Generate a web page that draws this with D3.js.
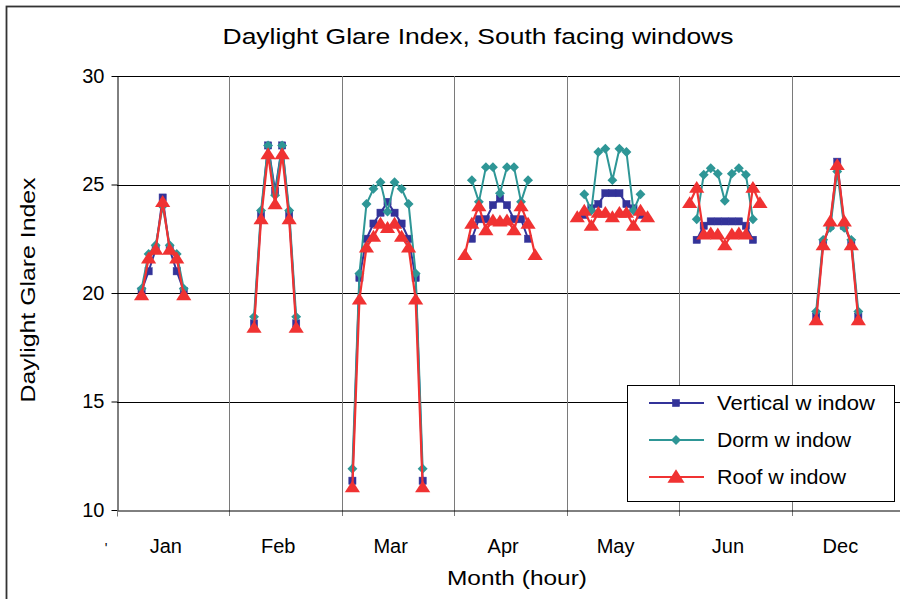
<!DOCTYPE html>
<html><head><meta charset="utf-8">
<script src="https://cdn.jsdelivr.net/npm/d3@7"></script>
<style>body{margin:0;background:#fff} svg{display:block} text{font-family:"Liberation Sans",Arial,sans-serif;fill:#000}</style>
</head><body>
<svg id="c" width="900" height="599"></svg>
<script>
// ---- data ----
const months = ["Jan","Feb","Mar","Apr","May","Jun","Dec"];
const firstSlot = [3,3,1,1,1,1,3];   // first hour slot of each month
const slotsPerMonth = 16;
const vertical = [
  [20.1, 21.0, 22.0, 24.4, 22.0, 21.0, 20.1],
  [18.6, 23.6, 26.8, 24.7, 26.8, 23.6, 18.6],
  [11.35, 20.7, 22.5, 23.2, 23.7, 24.2, 23.7, 23.2, 22.5, 20.7, 11.35],
  [null, 22.5, 23.4, 23.4, 24.05, 24.35, 24.05, 23.4, 23.4, 22.5, null],
  [null, 23.6, 23.9, 24.1, 24.6, 24.6, 24.6, 24.1, 23.9, 23.6, null],
  [null, 22.45, 23.1, 23.3, 23.3, 23.3, 23.3, 23.3, 23.1, 22.45, null],
  [18.9, 22.3, 23.1, 26.05, 23.1, 22.3, 18.9]
];
const dorm = [
  [20.2, 21.8, 22.2, 24.0, 22.2, 21.8, 20.2],
  [18.9, 23.8, 26.8, 24.5, 26.8, 23.8, 18.9],
  [11.9, 20.9, 24.1, 24.8, 25.1, 23.75, 25.1, 24.8, 24.1, 20.9, 11.9],
  [null, 25.2, 24.2, 25.8, 25.8, 24.6, 25.8, 25.8, 24.2, 25.2, null],
  [null, 24.55, 23.8, 26.5, 26.65, 25.2, 26.65, 26.5, 23.8, 24.55, null],
  [null, 23.4, 25.45, 25.75, 25.5, 24.25, 25.5, 25.75, 25.45, 23.4, null],
  [19.15, 22.45, 23.0, 25.6, 23.0, 22.45, 19.15]
];
const roof = [
  [19.9, 21.6, 22.0, 24.2, 22.0, 21.6, 19.9],
  [18.4, 23.4, 26.4, 24.1, 26.4, 23.4, 18.4],
  [11.05, 19.7, 22.1, 22.6, 23.2, 23.0, 23.2, 22.6, 22.1, 19.7, 11.05],
  [21.75, 23.2, 24.0, 22.9, 23.35, 23.3, 23.35, 22.9, 24.0, 23.2, 21.75],
  [23.5, 23.8, 23.1, 23.7, 23.7, 23.5, 23.7, 23.7, 23.1, 23.8, 23.5],
  [24.15, 24.85, 22.7, 22.75, 22.7, 22.2, 22.7, 22.75, 22.7, 24.85, 24.15],
  [18.75, 22.2, 23.3, 25.9, 23.3, 22.2, 18.75]
];
const yTicks = [10, 15, 20, 25, 30];
const seriesNames = ["Vertical w indow", "Dorm w indow", "Roof  w indow"];
const seriesColors = ["#333399", "#2E9696", "#F03232"];
const seriesShapes = ["square", "diamond", "triangle"];
const titleText = "Daylight Glare Index, South facing windows";
const xTitle = "Month (hour)";
const yTitle = "Daylight Glare Index";

// ---- layout ----
const svg = d3.select("#c");
const P = {left:117, right:904, top:76, bottom:510};
const x = d3.scaleLinear().domain([0, months.length*slotsPerMonth]).range([P.left, P.right]);
const y = d3.scaleLinear().domain([10, 30]).range([P.bottom, P.top]);

// outer border
svg.append("rect").attr("x",6.5).attr("y",6.5).attr("width",900).attr("height",600)
  .attr("fill","#fff").attr("stroke","#333").attr("stroke-width",1.8);

// horizontal gridlines
svg.append("g").selectAll("line").data(yTicks.filter(t=>t>10)).join("line")
  .attr("x1",P.left).attr("x2",P.right).attr("y1",d=>Math.round(y(d))+0.5).attr("y2",d=>Math.round(y(d))+0.5)
  .attr("stroke","#000").attr("stroke-width",1);

// vertical month separators (with outward ticks)
const bounds = d3.range(1, months.length).map(i=>i*slotsPerMonth);
svg.append("g").selectAll("line").data(bounds).join("line")
  .attr("x1",d=>Math.round(x(d))+0.5).attr("x2",d=>Math.round(x(d))+0.5)
  .attr("y1",P.top).attr("y2",P.bottom+6)
  .attr("stroke","#7a7a7a").attr("stroke-width",1);

// y axis
const yAxis = d3.axisLeft(y).tickValues(yTicks).tickSize(6).tickSizeOuter(0).tickPadding(7).tickFormat(d3.format("d"));
const gy = svg.append("g").attr("transform",`translate(${P.left+0.5},0)`).call(yAxis);
gy.selectAll("path,line").attr("stroke","#000");
gy.selectAll("text").style("font-size","20px").attr("font-family",null);

// x axis
const xAxis = d3.axisBottom(x).tickValues([0]).tickSize(6).tickSizeOuter(0).tickFormat("");
const gx = svg.append("g").attr("transform",`translate(0,${P.bottom+0.5})`).call(xAxis);
gx.selectAll("path").attr("stroke","#000");
gx.selectAll("line").attr("stroke","#7a7a7a");
svg.append("g").selectAll("text").data(months).join("text")
  .attr("x",(d,i)=>x(i*slotsPerMonth+6.95)).attr("y",553)
  .attr("text-anchor","middle").style("font-size","20px").text(d=>d);
svg.append("text").attr("x",106).attr("y",553).attr("text-anchor","middle").style("font-size","14px").text("'");

// titles
svg.append("text").attr("x",478).attr("y",44).attr("text-anchor","middle")
  .style("font-size","22px").attr("textLength",511).attr("lengthAdjust","spacingAndGlyphs").text(titleText);
svg.append("text").attr("x",517).attr("y",585).attr("text-anchor","middle")
  .style("font-size","21px").attr("textLength",140).attr("lengthAdjust","spacingAndGlyphs").text(xTitle);
svg.append("text").attr("transform","translate(35,290) rotate(-90)").attr("text-anchor","middle")
  .style("font-size","21px").attr("textLength",225).attr("lengthAdjust","spacingAndGlyphs").text(yTitle);

// markers
function marker(sel, shape, color, s) {
  if (shape==="square") {
    sel.append("rect").attr("x",-s*0.45).attr("y",-s*0.45).attr("width",s*0.9).attr("height",s*0.9)
      .attr("fill",color).attr("stroke",color).attr("stroke-width",0.5);
  } else if (shape==="diamond") {
    const r=s*0.62;
    sel.append("path").attr("d",`M0,${-r}L${r},0L0,${r}L${-r},0Z`).attr("fill",color);
  } else {
    const w=s*0.95, h=s*0.85;
    sel.append("path").attr("d",`M0,${-h}L${w},${h*0.75}L${-w},${h*0.75}Z`).attr("fill",color);
  }
}

// series
const series = [vertical, dorm, roof];
const line = d3.line().x(d=>x(d.s)).y(d=>y(d.v));
series.forEach((data, si) => {
  const g = svg.append("g");
  data.forEach((vals, mi) => {
    const pts = vals.map((v,j)=>({s: mi*slotsPerMonth + firstSlot[mi] + j + 0.5, v})).filter(d=>d.v!=null);
    g.append("path").attr("d", line(pts)).attr("fill","none")
      .attr("stroke", seriesColors[si]).attr("stroke-width", si===2?2.2:2);
    pts.forEach(p=>{
      const m = g.append("g").attr("transform",`translate(${x(p.s)},${y(p.v)})`);
      marker(m, seriesShapes[si], seriesColors[si], 8);
    });
  });
});

// legend
const L = {x:627.5, y:385.5, w:267, h:116};
const legendLens = [158, 134, 129];
const lg = svg.append("g");
lg.append("rect").attr("x",L.x).attr("y",L.y).attr("width",L.w).attr("height",L.h)
  .attr("fill","#fff").attr("stroke","#000").attr("stroke-width",1);
seriesNames.forEach((n,i)=>{
  const cy = 403 + i*37;
  lg.append("line").attr("x1",649).attr("x2",704).attr("y1",cy).attr("y2",cy)
    .attr("stroke",seriesColors[i]).attr("stroke-width",2);
  marker(lg.append("g").attr("transform",`translate(676,${cy})`), seriesShapes[i], seriesColors[i], i===2?9:8);
  lg.append("text").attr("x",717).attr("y",cy+7).style("font-size","20.5px")
    .attr("textLength",legendLens[i]).attr("lengthAdjust","spacingAndGlyphs").text(n);
});
</script>
</body></html>
